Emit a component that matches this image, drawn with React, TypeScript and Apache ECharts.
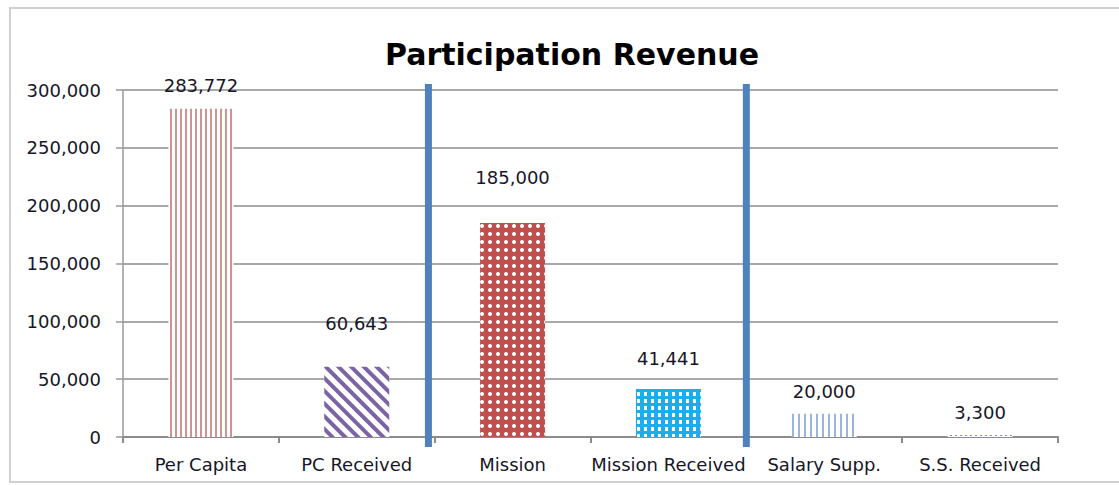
import React, { useEffect, useRef } from "react";
import * as echarts from "echarts";

const TITLE = "Participation Revenue";
const CATEGORIES = ["Per Capita", "PC Received", "Mission", "Mission Received", "Salary Supp.", "S.S. Received"];
const VALUES = [283772, 60643, 185000, 41441, 20000, 3300];
const Y_TICKS = [0, 50000, 100000, 150000, 200000, 250000, 300000];
// separator positions on a 0..6 scale spanning the categories
const SEPARATORS = [1.96, 4.0];

const FONT = "'DejaVu Sans', sans-serif";
const TEXT_COLOR = "#161628";
const LABEL_DISTANCE = [14, 34, 37, 22, 13, 12];
const BAR_STYLES: any[] = [
  { color: "#ffffff", decal: { symbol: "rect", symbolSize: 1, color: "#cf9393", dashArrayX: [2, 3], dashArrayY: [1, 0] } },
  { color: "#ffffff", decal: { symbol: "rect", symbolSize: 1, color: "#7b63a6", dashArrayX: [1, 0], dashArrayY: [4, 5], rotation: Math.PI / 4 } },
  { color: "#c0504d", decal: { symbol: "circle", symbolSize: 1, color: "#ffffff", dashArrayX: [4, 4], dashArrayY: [4, 4] } },
  { color: "#1aaef0", decal: { symbol: "rect", symbolSize: 1, color: "#ffffff", dashArrayX: [3, 4], dashArrayY: [4, 3] } },
  { color: "#ffffff", decal: { symbol: "rect", symbolSize: 1, color: "#9bb5dc", dashArrayX: [2, 4], dashArrayY: [1, 0] } },
  { color: "#ffffff", decal: { symbol: "rect", symbolSize: 1, color: "#6f94c8", dashArrayX: [2, 3], dashArrayY: [1, 2] } },
];

const fmt = (v: number) => v.toLocaleString("en-US");

export default function App() {
  const ref = useRef<HTMLDivElement>(null);
  useEffect(() => {
    if (!ref.current) return;
    const chart = echarts.init(ref.current, undefined, { renderer: "svg" });
    const yMin = Y_TICKS[0];
    const yMax = Y_TICKS[Y_TICKS.length - 1];
    const option: any = {
      animation: false,
      backgroundColor: "#ffffff",
      title: {
        text: TITLE,
        left: 567,
        top: 34,
        textAlign: "center",
        textStyle: { fontFamily: FONT, fontSize: 30, fontWeight: "bold", color: "#000000" },
      },
      graphic: [
        {
          type: "rect",
          silent: true,
          shape: { x: 10, y: 8, width: 1200, height: 474 },
          style: { fill: "none", stroke: "#d0d0d0", lineWidth: 2 },
        },
      ],
      grid: { left: 123, right: 61, top: 90, bottom: 48, containLabel: false },
      xAxis: [
        {
          type: "category",
          data: CATEGORIES,
          axisLine: { lineStyle: { color: "#8c8c8c", width: 2 } },
          axisTick: { show: true, length: 6, lineStyle: { color: "#8c8c8c", width: 2 } },
          axisLabel: { interval: 0, hideOverlap: false, fontFamily: FONT, fontSize: 18, color: TEXT_COLOR, margin: 18 },
        },
        { type: "value", min: 0, max: CATEGORIES.length, show: false },
      ],
      yAxis: {
        type: "value",
        min: yMin,
        max: yMax,
        interval: Y_TICKS[1] - Y_TICKS[0],
        axisLine: { show: true, lineStyle: { color: "#9a9a9a", width: 1.5 } },
        axisTick: { show: true, length: 7, lineStyle: { color: "#9a9a9a", width: 1.5 } },
        axisLabel: { fontFamily: FONT, fontSize: 18, color: TEXT_COLOR, margin: 22, formatter: (v: number) => fmt(v) },
        splitLine: { show: true, lineStyle: { color: "#a9a9a9", width: 2 } },
      },
      series: [
        {
          type: "bar",
          barWidth: 65,
          data: VALUES.map((v, i) => ({
            value: v,
            itemStyle: BAR_STYLES[i],
            label: { distance: LABEL_DISTANCE[i] },
          })),
          label: {
            show: true,
            position: "top",
            fontFamily: FONT,
            fontSize: 18,
            color: TEXT_COLOR,
            formatter: (p: any) => fmt(p.value),
          },
        },
        {
          type: "custom",
          xAxisIndex: 1,
          yAxisIndex: 0,
          z: 10,
          data: SEPARATORS.map((s) => [s, 0]),
          renderItem: (params: any, api: any) => {
            const x = api.value(0);
            const p0 = api.coord([x, yMin]);
            const p1 = api.coord([x, yMax]);
            return {
              type: "rect",
              shape: { x: p0[0] - 3.5, y: p1[1] - 6, width: 7, height: p0[1] - p1[1] + 16 },
              style: { fill: "#4f81bd" },
            };
          },
        },
      ],
    };
    chart.setOption(option);
    return () => chart.dispose();
  }, []);
  return <div ref={ref} style={{ position: "absolute", left: 0, top: 0, width: 1119, height: 485 }} />;
}
